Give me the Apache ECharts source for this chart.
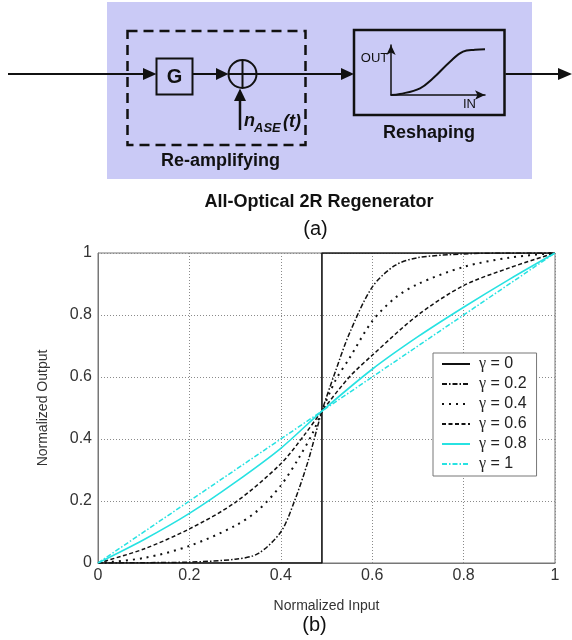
<!DOCTYPE html>
<html>
<head>
<meta charset="utf-8">
<title>2R regenerator</title>
<script src="https://cdn.jsdelivr.net/npm/echarts@6/dist/echarts.min.js"></script>
<style>
  html, body { margin: 0; padding: 0; background: #fff; }
</style>
</head>
<body>
<div id="main" style="width:572px;height:640px;"></div>
<script>
// transfer curves, one x/y pair of arrays per gamma
var names = ['γ = 0', 'γ = 0.2', 'γ = 0.4', 'γ = 0.6', 'γ = 0.8', 'γ = 1'];

var x0 = [0, 0.49, 0.49, 1];
var y0 = [0, 0, 1, 1];

var x02 = [0, 0.1, 0.2, 0.3, 0.35, 0.4, 0.43, 0.46, 0.49, 0.52, 0.55, 0.6, 0.65, 0.7, 0.8, 0.9, 1];
var y02 = [0, 0.001, 0.003, 0.012, 0.03, 0.1, 0.2, 0.33, 0.49, 0.62, 0.74, 0.89, 0.96, 0.985, 0.997, 1, 1];

var x04 = [0, 0.1, 0.2, 0.3, 0.35, 0.4, 0.44, 0.47, 0.49, 0.52, 0.55, 0.6, 0.65, 0.7, 0.8, 0.9, 1];
var y04 = [0, 0.016, 0.055, 0.12, 0.17, 0.25, 0.34, 0.42, 0.49, 0.59, 0.66, 0.78, 0.855, 0.9, 0.955, 0.985, 1];

var x06 = [0, 0.1, 0.2, 0.3, 0.4, 0.45, 0.49, 0.55, 0.6, 0.7, 0.8, 0.9, 1];
var y06 = [0, 0.045, 0.11, 0.195, 0.32, 0.41, 0.49, 0.6, 0.67, 0.8, 0.895, 0.952, 1];

var x08 = [0, 0.1, 0.2, 0.3, 0.4, 0.49, 0.6, 0.7, 0.8, 0.9, 1];
var y08 = [0, 0.075, 0.16, 0.26, 0.37, 0.49, 0.625, 0.73, 0.825, 0.915, 1];

var x1 = [0, 0.49, 1];
var y1 = [0, 0.49, 1];

// small sigmoid sketched inside the "Reshaping" block
var insetX = [0, 0.096, 0.309, 0.447, 0.628, 0.766, 0.894, 1];
var insetY = [0, 0.02, 0.134, 0.334, 0.666, 0.866, 0.904, 0.914];

function pairs(xs, ys) {
  return xs.map(function (x, i) { return [x, ys[i]]; });
}

var black = '#111';
var cyan = '#27e2e2';
var font = 'Liberation Sans, Arial, sans-serif';

var chart = echarts.init(document.getElementById('main'));

function line(x1_, y1_, x2_, y2_, w) {
  return { type: 'line', shape: { x1: x1_, y1: y1_, x2: x2_, y2: y2_ }, style: { stroke: black, lineWidth: w || 2 } };
}
function tri(pts) {
  return { type: 'polygon', shape: { points: pts }, style: { fill: black } };
}
function label(txt, x, y, size, weight, style, align) {
  return {
    type: 'text', x: x, y: y,
    style: {
      text: txt, fill: black, fontSize: size, fontWeight: weight || 'normal',
      fontStyle: style || 'normal', fontFamily: font,
      align: align || 'center', verticalAlign: 'middle'
    }
  };
}

var diagram = [
  { type: 'rect', shape: { x: 107, y: 2, width: 425, height: 177 }, style: { fill: '#cacaf6' } },
  { type: 'rect', shape: { x: 127.5, y: 31, width: 178, height: 114 },
    style: { fill: 'none', stroke: black, lineWidth: 2.5, lineDash: [10, 6] } },
  line(8, 74, 145, 74),
  tri([[143, 68], [156.5, 74], [143, 80]]),
  { type: 'rect', shape: { x: 156.5, y: 58.5, width: 36, height: 36 },
    style: { fill: 'none', stroke: black, lineWidth: 2 } },
  label('G', 174.5, 77, 20, 'bold'),
  line(192.5, 74, 218, 74),
  tri([[216, 68], [228.5, 74], [216, 80]]),
  { type: 'circle', shape: { cx: 242.5, cy: 74, r: 14 }, style: { fill: 'none', stroke: black, lineWidth: 2 } },
  line(242.5, 60, 242.5, 88),
  line(228.5, 74, 256.5, 74),
  line(240, 130, 240, 99, 2.5),
  tri([[234, 101], [240, 88.5], [246, 101]]),
  label('n', 244, 121.5, 18, 'bold', 'italic', 'left'),
  label('ASE', 254, 128.5, 13, 'bold', 'italic', 'left'),
  label('(t)', 283, 122.5, 18, 'bold', 'italic', 'left'),
  line(256.5, 74, 342, 74),
  tri([[341, 68], [354, 74], [341, 80]]),
  { type: 'rect', shape: { x: 354, y: 30, width: 150.5, height: 85 },
    style: { fill: 'none', stroke: black, lineWidth: 2.5 } },
  label('OUT', 374.5, 58, 13),
  label('IN', 469.5, 104, 13),
  line(505.5, 74, 560, 74),
  tri([[558, 68], [572, 74], [558, 80]]),
  label('Re-amplifying', 220.5, 161, 18, 'bold'),
  label('Reshaping', 429, 133, 18, 'bold'),
  label('All-Optical 2R Regenerator', 319, 202, 18, 'bold'),
  label('(a)', 315.5, 229, 20),
  label('(b)', 314.5, 625, 20)
];

var styles = [
  { color: black, type: 'solid', width: 1.6 },
  { color: black, type: [5, 2, 1.5, 2], width: 1.5 },
  { color: black, type: [2, 5], width: 2 },
  { color: black, type: [4, 2.5], width: 1.5 },
  { color: cyan, type: 'solid', width: 1.6 },
  { color: cyan, type: [5, 2, 1.5, 2], width: 1.5 }
];
var datasets = [pairs(x0, y0), pairs(x02, y02), pairs(x04, y04), pairs(x06, y06), pairs(x08, y08), pairs(x1, y1)];

var series = names.map(function (n, i) {
  return {
    name: n,
    type: 'line',
    xAxisIndex: 0, yAxisIndex: 0,
    data: datasets[i],
    showSymbol: false,
    symbol: 'none',
    smooth: (i === 0 || i === 5) ? false : 0.3,
    color: styles[i].color,
    lineStyle: styles[i]
  };
});

series.push({
  type: 'line',
  xAxisIndex: 1, yAxisIndex: 1,
  data: pairs(insetX, insetY),
  showSymbol: false,
  symbol: 'none',
  smooth: 0.4,
  lineStyle: { color: black, width: 2 }
});

var axisText = { color: '#333', fontSize: 16, fontFamily: font };

chart.setOption({
  animation: false,
  textStyle: { fontFamily: font },
  graphic: diagram,
  grid: [
    { left: 98, top: 253, width: 457, height: 310, show: true, borderColor: '#777', borderWidth: 1, backgroundColor: '#fff' },
    { left: 391, top: 45, width: 94, height: 50 }
  ],
  xAxis: [
    {
      type: 'value', gridIndex: 0, min: 0, max: 1, interval: 0.2,
      name: 'Normalized Input', nameLocation: 'middle', nameGap: 36,
      nameTextStyle: { color: '#333', fontSize: 14, fontFamily: font },
      axisLine: { lineStyle: { color: '#777' } },
      axisTick: { show: false },
      axisLabel: Object.assign({ margin: 5 }, axisText),
      splitLine: { lineStyle: { color: '#8a8a8a', type: [1, 2] } }
    },
    {
      type: 'value', gridIndex: 1, min: 0, max: 1, show: true,
      axisLine: { show: true, symbol: ['none', 'arrow'], symbolSize: [7, 10], lineStyle: { color: black, width: 1.5 } },
      axisTick: { show: false }, axisLabel: { show: false }, splitLine: { show: false }
    }
  ],
  yAxis: [
    {
      type: 'value', gridIndex: 0, min: 0, max: 1, interval: 0.2,
      name: 'Normalized Output', nameLocation: 'middle', nameGap: 48,
      nameTextStyle: { color: '#333', fontSize: 14, fontFamily: font },
      axisLine: { show: true, lineStyle: { color: '#777' } },
      axisTick: { show: false },
      axisLabel: Object.assign({ margin: 6 }, axisText),
      splitLine: { lineStyle: { color: '#8a8a8a', type: [1, 2] } }
    },
    {
      type: 'value', gridIndex: 1, min: 0, max: 1,
      axisLine: { show: true, symbol: ['none', 'arrow'], symbolSize: [7, 10], lineStyle: { color: black, width: 1.5 } },
      axisTick: { show: false }, axisLabel: { show: false }, splitLine: { show: false }
    }
  ],
  legend: {
    data: names,
    orient: 'vertical',
    left: 433, top: 353,
    padding: [3, 10, 4, 8],
    itemGap: 4,
    itemWidth: 28,
    itemHeight: 16,
    backgroundColor: '#fff',
    borderColor: '#777',
    borderWidth: 1,
    borderRadius: 0,
    selectedMode: false,
    itemStyle: { opacity: 0 },
    formatter: function (name) {
      return name.replace('γ', '{g|γ}');
    },
    textStyle: {
      color: '#222', fontSize: 16, lineHeight: 16, fontFamily: font,
      rich: { g: { fontFamily: 'Liberation Serif, serif', fontSize: 16, padding: [0, 0, 0, 4] } }
    }
  },
  series: series
});
</script>
</body>
</html>
